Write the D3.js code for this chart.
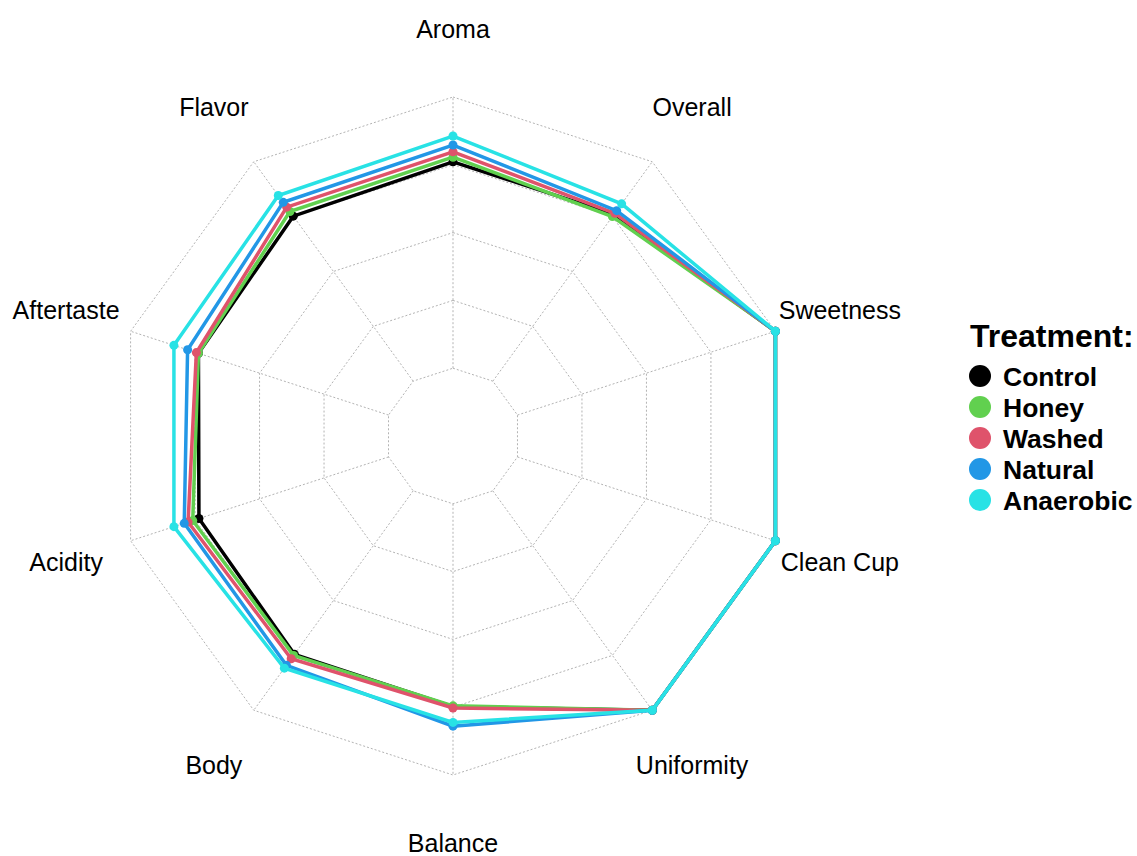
<!DOCTYPE html>
<html>
<head>
<meta charset="utf-8">
<script src="https://cdn.jsdelivr.net/npm/d3@7"></script>
<style>
  html, body { margin: 0; padding: 0; background: #ffffff; }
  svg { display: block; }
</style>
</head>
<body>
<svg id="chart" width="1137" height="856"></svg>
<script>
// ---- Data (normalized scores: 0 = inner ring, 1 = outer ring) ----
const axes = ["Aroma", "Overall", "Sweetness", "Clean Cup", "Uniformity",
              "Balance", "Body", "Acidity", "Aftertaste", "Flavor"];
const treatments = ["Control", "Honey", "Washed", "Natural", "Anaerobic"];
const colors = ["#000000", "#61D04F", "#DF536B", "#2297E6", "#28E2E5"];

const control   = [0.761, 0.760, 1, 1, 1, 0.748, 0.745, 0.735, 0.737, 0.752];
const honey     = [0.778, 0.750, 1, 1, 1, 0.745, 0.750, 0.759, 0.737, 0.773];
const washed    = [0.798, 0.765, 1, 1, 1, 0.753, 0.765, 0.777, 0.745, 0.793];
const natural   = [0.823, 0.777, 1, 1, 1, 0.820, 0.795, 0.792, 0.779, 0.815];
const anaerobic = [0.856, 0.808, 1, 1, 1, 0.806, 0.808, 0.832, 0.832, 0.846];
const seriesValues = [control, honey, washed, natural, anaerobic];

const gridLevels = [0, 0.25, 0.5, 0.75, 1];

// ---- Layout ----
const svg = d3.select("#chart");
const cx = 453, cy = 436, R = 339;
const r = d3.scaleLinear().domain([0, 1]).range([R / 5, R]);
const angle = d3.scaleLinear().domain([0, axes.length]).range([0, 2 * Math.PI]);

function pt(i, v) {
  const a = angle(i);
  const rad = r(v);
  return [cx + rad * Math.sin(a), cy - rad * Math.cos(a)];
}

const g = svg.append("g");

// grid polygons
const lineGen = d3.line().curve(d3.curveLinearClosed);
g.selectAll("path.grid")
  .data(gridLevels)
  .enter().append("path")
  .attr("class", "grid")
  .attr("d", lv => lineGen(axes.map((_, i) => pt(i, lv))))
  .attr("fill", "none")
  .attr("stroke", "#b3b3b3")
  .attr("stroke-width", 1)
  .attr("stroke-dasharray", "2,2");

// axis spokes
g.selectAll("line.spoke")
  .data(axes)
  .enter().append("line")
  .attr("class", "spoke")
  .attr("x1", (_, i) => pt(i, 0)[0])
  .attr("y1", (_, i) => pt(i, 0)[1])
  .attr("x2", (_, i) => pt(i, 1)[0])
  .attr("y2", (_, i) => pt(i, 1)[1])
  .attr("stroke", "#b3b3b3")
  .attr("stroke-width", 1)
  .attr("stroke-dasharray", "2,2");

// axis labels
const labelR = R * 1.2;
g.selectAll("text.axis")
  .data(axes)
  .enter().append("text")
  .attr("class", "axis")
  .attr("x", (_, i) => cx + labelR * Math.sin(angle(i)))
  .attr("y", (_, i) => cy - labelR * Math.cos(angle(i)) + 9)
  .attr("text-anchor", "middle")
  .attr("font-family", "Liberation Sans, Arial, sans-serif")
  .attr("font-size", 25)
  .attr("fill", "#000")
  .text(d => d);

// series
seriesValues.forEach((vals, s) => {
  const pts = vals.map((v, i) => pt(i, v));
  g.append("path")
    .attr("d", lineGen(pts))
    .attr("fill", "none")
    .attr("stroke", colors[s])
    .attr("stroke-width", 3.5)
    .attr("stroke-linejoin", "miter");
  g.selectAll(null)
    .data(pts)
    .enter().append("circle")
    .attr("cx", d => d[0])
    .attr("cy", d => d[1])
    .attr("r", 4.5)
    .attr("fill", colors[s]);
});

// legend
const lg = svg.append("g");
lg.append("text")
  .attr("x", 970)
  .attr("y", 347)
  .attr("font-family", "Liberation Sans, Arial, sans-serif")
  .attr("font-weight", "bold")
  .attr("font-size", 32)
  .attr("fill", "#000")
  .text("Treatment:");
const ly = d3.scalePoint().domain(treatments).range([376, 500]);
treatments.forEach((t, s) => {
  lg.append("circle")
    .attr("cx", 980)
    .attr("cy", ly(t))
    .attr("r", 11)
    .attr("fill", colors[s]);
  lg.append("text")
    .attr("x", 1003)
    .attr("y", ly(t) + 9.5)
    .attr("font-family", "Liberation Sans, Arial, sans-serif")
    .attr("font-weight", "bold")
    .attr("font-size", 26.5)
    .attr("fill", "#000")
    .text(t);
});
</script>
</body>
</html>
